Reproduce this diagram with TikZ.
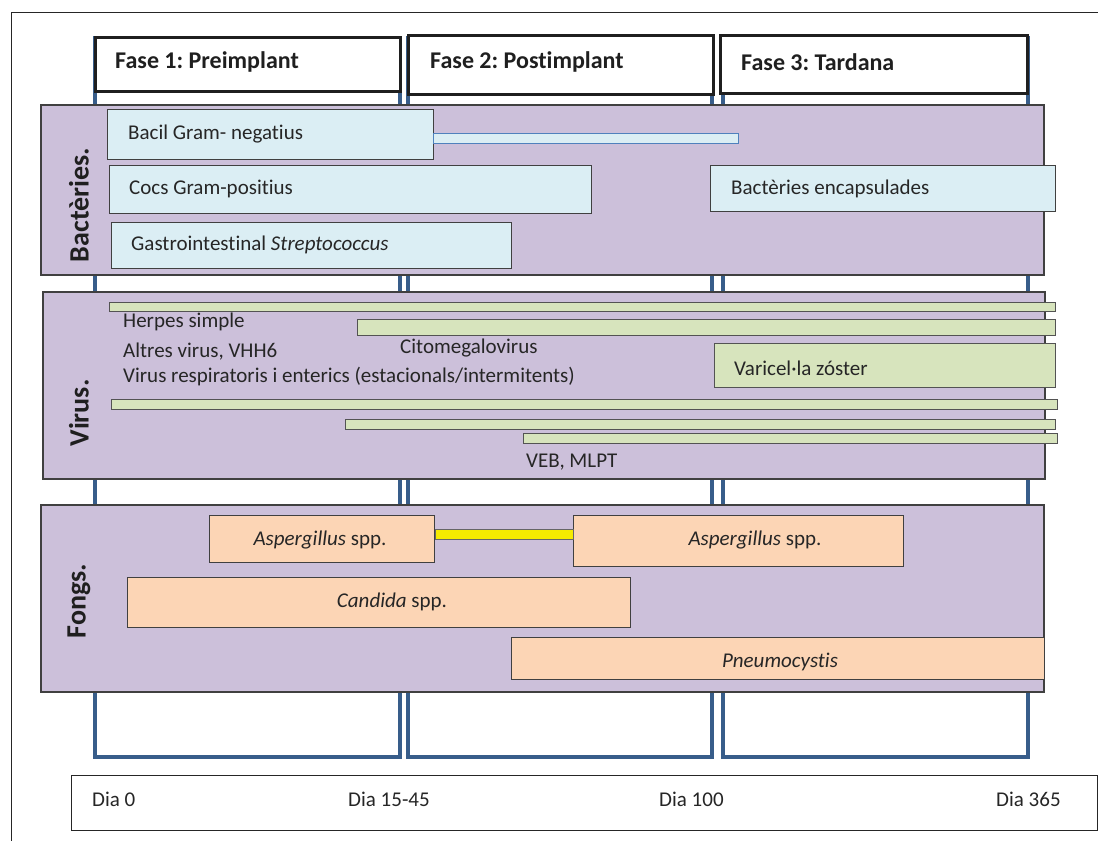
\documentclass[tikz,border=0pt]{standalone}
\usepackage{fontspec}
\setmainfont{Carlito}[Ligatures={NoCommon}]
\frenchspacing
\usetikzlibrary{calc}
\definecolor{purp}{HTML}{CCC0DA}
\definecolor{lblue}{HTML}{DBEEF4}
\definecolor{lgreen}{HTML}{D7E4BD}
\definecolor{peach}{HTML}{FCD5B5}
\definecolor{colblue}{HTML}{385D8A}
\definecolor{edge}{HTML}{404040}
\definecolor{barblue}{HTML}{4F81BD}
\definecolor{ybar}{HTML}{F5EB00}
\begin{document}
\begin{tikzpicture}[x=1pt,y=-1pt,
  phasecol/.style={draw=colblue, line width=4pt, anchor=north west, inner sep=0pt},
  phasehead/.style={draw=black!88, line width=3pt, fill=white, anchor=north west, inner sep=0pt},
  panel/.style={draw=edge, line width=1.8pt, fill=purp, anchor=north west, inner sep=0pt},
  bbox/.style={draw=edge, line width=1.2pt, fill=lblue, anchor=north west, inner sep=0pt},
  gbar/.style={draw=edge!90, line width=1.1pt, fill=lgreen, anchor=north west, inner sep=0pt},
  fbox/.style={draw=edge, line width=1.2pt, fill=peach, anchor=north west, inner sep=0pt},
  tlbox/.style={draw=black!85, line width=1.2pt, fill=white, anchor=north west, inner sep=0pt},
  lbl/.style={font=\fontsize{21}{25}\selectfont, text=black!85, anchor=west, inner sep=0pt},
  clbl/.style={font=\fontsize{21}{25}\selectfont, text=black!85, anchor=center, inner sep=0pt},
  headtxt/.style={font=\bfseries\fontsize{24}{28}\selectfont, text=black!88, anchor=west, inner sep=0pt},
  grouptxt/.style={font=\bfseries\fontsize{28}{32}\selectfont, text=black!88, rotate=90, inner sep=0pt},
]
\useasboundingbox (0,0) rectangle (1098,841);
\fill[white] (0,0) rectangle (1098,841);

% outer frame (top and left)
\draw[black!85, line width=1pt] (1098,12) -- (11.5,12) -- (11.5,841);

% phase columns
\node[phasecol, minimum width=304.5pt, minimum height=719pt] (col1) at (93,35.5) {};
\node[phasecol, minimum width=304pt, minimum height=719pt] (col2) at (405.5,35.5) {};
\node[phasecol, minimum width=305pt, minimum height=719pt] (col3) at (721,35.5) {};

% phase headers
\node[phasehead, minimum width=305pt, minimum height=54pt] (h1) at (93.5,35.5) {};
\node[phasehead, minimum width=305.5pt, minimum height=59pt] (h2) at (406.5,33.5) {};
\node[phasehead, minimum width=306.5pt, minimum height=58pt] (h3) at (719,33.5) {};
\node[headtxt] (h1t) at (115,62) {Fase 1: Preimplant};
\node[headtxt] (h2t) at (430,62) {Fase 2: Postimplant};
\node[headtxt] (h3t) at (741,62) {Fase 3: Tardana};

% panels
\node[panel, minimum width=1003pt, minimum height=170pt] (pb) at (40,104) {};
\node[panel, minimum width=1002pt, minimum height=187pt] (pv) at (42,291) {};
\node[panel, minimum width=1003pt, minimum height=187pt] (pf) at (40,504) {};
\node[grouptxt] (gb) at (79,205) {Bactèries.};
\node[grouptxt] (gv) at (79,413) {Virus.};
\node[grouptxt] (gf) at (79,601) {Fongs.};

% bacteria
\node[bbox, minimum width=326pt, minimum height=50pt] (bacil) at (107,109) {};
\node[bbox, draw=barblue, line width=1pt, minimum width=305pt, minimum height=10pt] (bacilbar) at (433,133) {};
\node[bbox, minimum width=482pt, minimum height=48pt] (cocs) at (109,165) {};
\node[bbox, minimum width=345pt, minimum height=46pt] (encaps) at (710,165) {};
\node[bbox, minimum width=400pt, minimum height=46pt] (gastro) at (111,222) {};
\node[lbl] (bacilt) at (128,134) {Bacil Gram- negatius};
\node[lbl] (cocst) at (129,189) {Cocs Gram-positius};
\node[lbl] (encapst) at (731,189) {Bactèries encapsulades};
\node[lbl] (gastrot) at (131,245) {Gastrointestinal \textit{Streptococcus}};

% virus
\node[gbar, minimum width=946pt, minimum height=9pt] (vb1) at (109,302) {};
\node[gbar, minimum width=698pt, minimum height=16pt] (vb2) at (357,319) {};
\node[gbar, minimum width=341pt, minimum height=44pt] (varic) at (714,343) {};
\node[gbar, minimum width=946pt, minimum height=10pt] (vb4) at (111,399) {};
\node[gbar, minimum width=710pt, minimum height=10pt] (vb5) at (345,419) {};
\node[gbar, minimum width=534pt, minimum height=10pt] (vb6) at (523,433) {};
\node[lbl] (herpes) at (123,322) {Herpes simple};
\node[lbl] (altres) at (123,352) {Altres virus, VHH6};
\node[lbl] (cmv) at (400,348) {Citomegalovirus};
\node[lbl] (resp) at (123,377) {Virus respiratoris i enterics (estacionals/intermitents)};
\node[lbl] (veb) at (526,462) {VEB, MLPT};
\node[lbl] (varict) at (734,368) {Varicel·la zóster};

% fungi
\node[fbox, minimum width=225pt, minimum height=47pt] (asp1) at (209,515) {};
\node[fbox, minimum width=330pt, minimum height=51pt] (asp2) at (573,515) {};
\draw[draw=edge!80, line width=0.8pt, fill=ybar] ($(asp1.north east)+(0,14)$) rectangle ($(asp2.north west)+(0,24)$);
\node[fbox, minimum width=503pt, minimum height=50pt] (cand) at (127,577) {};
\node[fbox, minimum width=533pt, minimum height=42pt] (pneu) at (511,637) {};
\node[clbl] (asp1t) at (320,540) {\textit{Aspergillus} spp.};
\node[clbl] (asp2t) at (755,540) {\textit{Aspergillus} spp.};
\node[clbl] (candt) at (392,602) {\textit{Candida} spp.};
\node[clbl] (pneut) at (780,662) {\textit{Pneumocystis}};

% timeline
\node[tlbox, minimum width=1026pt, minimum height=55pt] (tl) at (71,775) {};
\node[lbl] (d0) at (92,799) {Dia 0};
\node[lbl] (d15) at (348,799) {Dia 15-45};
\node[lbl] (d100) at (659,799) {Dia 100};
\node[lbl] (d365) at (996,799) {Dia 365};
\end{tikzpicture}
\end{document}
